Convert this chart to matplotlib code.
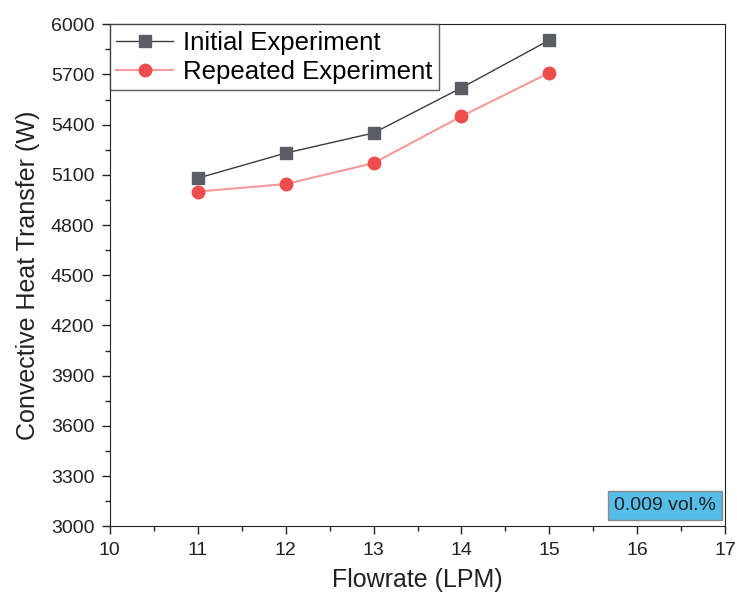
import matplotlib.pyplot as plt
from matplotlib.ticker import MultipleLocator

plt.rcParams['font.family'] = ['Liberation Sans', 'DejaVu Sans']

flowrate = [11, 12, 13, 14, 15]
initial = [5080, 5230, 5350, 5620, 5905]
repeated = [5000, 5045, 5170, 5450, 5710]

fig = plt.figure(figsize=(7.37, 6.05), dpi=100)
ax = fig.add_axes([0.149, 0.130, 0.835, 0.830])

ax.plot(flowrate, initial, color='#3a3d42', linewidth=1, marker='s', markersize=9,
        markerfacecolor='#5a5e64', markeredgecolor='#5a5e64', label='Initial Experiment')
ax.plot(flowrate, repeated, color='#f49a9a', linewidth=1.5, marker='o', markersize=9,
        markerfacecolor='#ee4d4d', markeredgecolor='#ee4d4d', label='Repeated Experiment')

ax.set_xlim(10, 17)
ax.set_ylim(3000, 6000)
ax.xaxis.set_major_locator(MultipleLocator(1))
ax.xaxis.set_minor_locator(MultipleLocator(0.5))
ax.yaxis.set_major_locator(MultipleLocator(300))
ax.yaxis.set_minor_locator(MultipleLocator(150))
ax.tick_params(which='major', direction='out', length=6, width=1, labelsize=14,
               colors='#222222', pad=5)
ax.tick_params(which='minor', direction='out', length=3.5, width=1, colors='#222222')
for s in ax.spines.values():
    s.set_color('#222222')

ax.set_xlabel('Flowrate (LPM)', fontsize=18, color='#222222', labelpad=7)
ax.set_ylabel('Convective Heat Transfer (W)', fontsize=18, color='#222222', labelpad=8)

leg = ax.legend(loc='upper left', fontsize=18.5, frameon=True, fancybox=False,
                borderaxespad=0, handlelength=2.2, borderpad=0.25, labelspacing=0.2,
                handletextpad=0.4)
leg.get_frame().set_edgecolor('#333333')
leg.get_frame().set_linewidth(1)

ax.text(0.985, 0.025, '0.009 vol.%', transform=ax.transAxes, ha='right', va='bottom',
        fontsize=14, color='#222222',
        bbox=dict(boxstyle='square,pad=0.3', facecolor='#55bde8', edgecolor='#888888'))

fig.savefig('out.png', dpi=100)
